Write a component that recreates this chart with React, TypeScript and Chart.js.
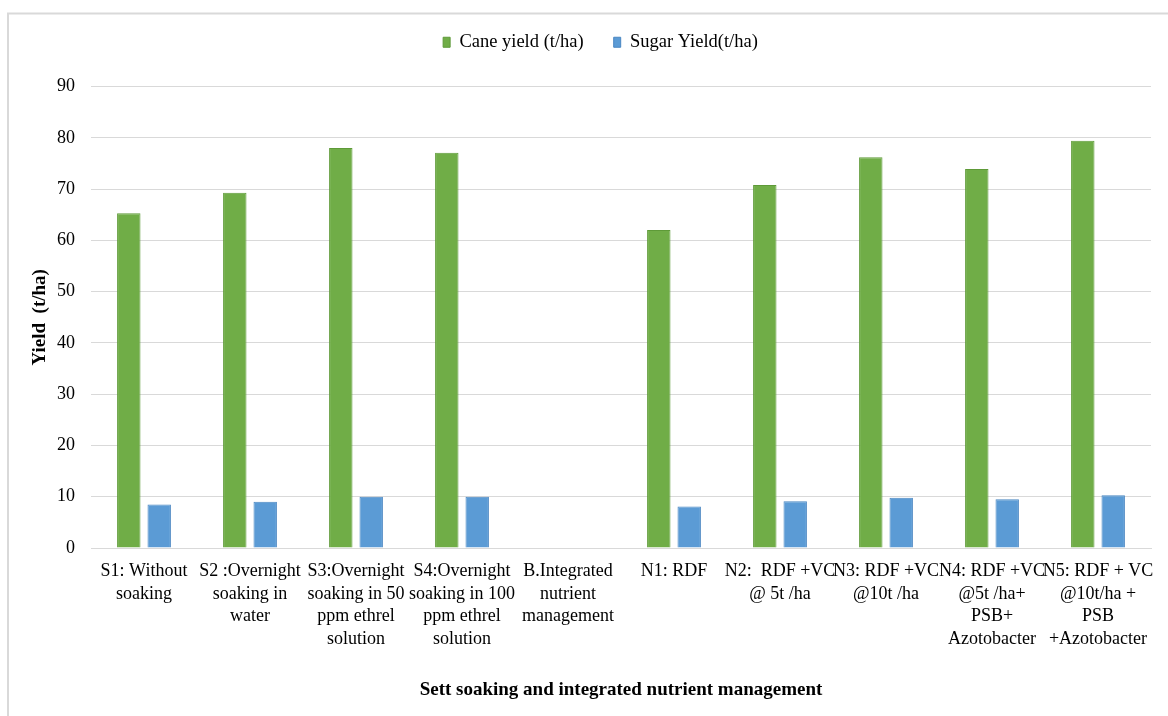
import React, { useEffect, useRef } from "react";
import { Chart, registerables } from "chart.js";

Chart.register(...registerables);

// Treatments (multi-line axis labels)
const categories: string[][] = [
  ["S1: Without", "soaking"],
  ["S2 :Overnight", "soaking in", "water"],
  ["S3:Overnight", "soaking in 50", "ppm ethrel", "solution"],
  ["S4:Overnight", "soaking in 100", "ppm ethrel", "solution"],
  ["B.Integrated", "nutrient", "management"],
  ["N1: RDF"],
  ["N2:  RDF +VC", "@ 5t /ha"],
  ["N3: RDF +VC", "@10t /ha"],
  ["N4: RDF +VC", "@5t /ha+", "PSB+", "Azotobacter"],
  ["N5: RDF + VC", "@10t/ha +", "PSB", "+Azotobacter"],
];

// Yields in t/ha (the group heading row has no bars)
const caneYield: (number | null)[] = [65.3, 69.3, 78.0, 77.1, null, 62.0, 70.8, 76.2, 73.9, 79.4];
const sugarYield: (number | null)[] = [8.5, 9.0, 10.0, 10.0, null, 8.1, 9.1, 9.8, 9.5, 10.3];

const seriesNames = ["Cane yield (t/ha)", "Sugar Yield(t/ha)"];
const yMin = 0;
const yMax = 90;
const yStep = 10;

const FONT = "'Liberation Serif', 'Times New Roman', serif";

// Light grey frame around the whole figure
const framePlugin = {
  id: "frame",
  beforeDraw(chart: Chart) {
    const { ctx, width, height } = chart;
    ctx.save();
    ctx.fillStyle = "#ffffff";
    ctx.fillRect(0, 0, width, height);
    ctx.strokeStyle = "#d9d9d9";
    ctx.lineWidth = 2;
    ctx.strokeRect(8, 13.5, width + 20, height + 20);
    ctx.restore();
  },
};

export default function App() {
  const canvasRef = useRef<HTMLCanvasElement | null>(null);

  useEffect(() => {
    if (!canvasRef.current) return;
    const chart = new Chart(canvasRef.current, {
      type: "bar",
      data: {
        labels: categories,
        datasets: [
          {
            label: seriesNames[0],
            data: caneYield,
            backgroundColor: "#70AD47",
            borderColor: "#5e9a38",
            borderWidth: 1,
            categoryPercentage: 0.574,
            barPercentage: 0.77,
          },
          {
            label: seriesNames[1],
            data: sugarYield,
            backgroundColor: "#5B9BD5",
            borderColor: "#4a87c2",
            borderWidth: 1,
            categoryPercentage: 0.574,
            barPercentage: 0.77,
          },
        ],
      },
      options: {
        responsive: false,
        animation: false,
        layout: { padding: { top: 3, left: 50, right: 17, bottom: 0 } },
        plugins: {
          legend: {
            display: true,
            position: "top",
            weight: 1000,
            labels: {
              boxWidth: 7,
              boxHeight: 10,
              padding: 30,
              color: "#000000",
              font: { family: FONT, size: 18.5 },
            },
          },
          // spacer between the legend and the plot
          title: {
            display: true,
            position: "top",
            weight: 500,
            text: "",
            font: { size: 10, lineHeight: 1 },
            padding: { top: 0, bottom: 15 },
          },
          tooltip: { enabled: false },
        },
        scales: {
          x: {
            grid: { display: false, drawTicks: false },
            border: { display: true, color: "#d9d9d9", width: 1 },
            ticks: {
              autoSkip: false,
              maxRotation: 0,
              minRotation: 0,
              padding: 12,
              color: "#000000",
              font: { family: FONT, size: 18, lineHeight: 1.26 },
            },
            title: {
              display: true,
              text: "Sett soaking and integrated nutrient management",
              color: "#000000",
              font: { family: FONT, size: 19, weight: "bold" },
              padding: { top: 0, bottom: 15 },
            },
            afterFit(scale: any) {
              scale.height = 168;
            },
          },
          y: {
            min: yMin,
            max: yMax,
            grid: { color: "#d9d9d9", lineWidth: 1, drawTicks: false },
            border: { display: false },
            ticks: {
              stepSize: yStep,
              padding: 16,
              color: "#000000",
              font: { family: FONT, size: 18 },
            },
            title: {
              display: true,
              text: "Yield  (t/ha)",
              color: "#000000",
              font: { family: FONT, size: 19, weight: "bold" },
              padding: { top: -21.4, bottom: 0 },
            },
            afterFit(scale: any) {
              scale.width = 41;
            },
          },
        },
      },
      plugins: [framePlugin],
    });
    return () => chart.destroy();
  }, []);

  return (
    <div style={{ position: "fixed", left: 0, top: 0, width: 1168, height: 716, background: "#fff" }}>
      <canvas ref={canvasRef} width={1168} height={716} style={{ display: "block" }} />
    </div>
  );
}
